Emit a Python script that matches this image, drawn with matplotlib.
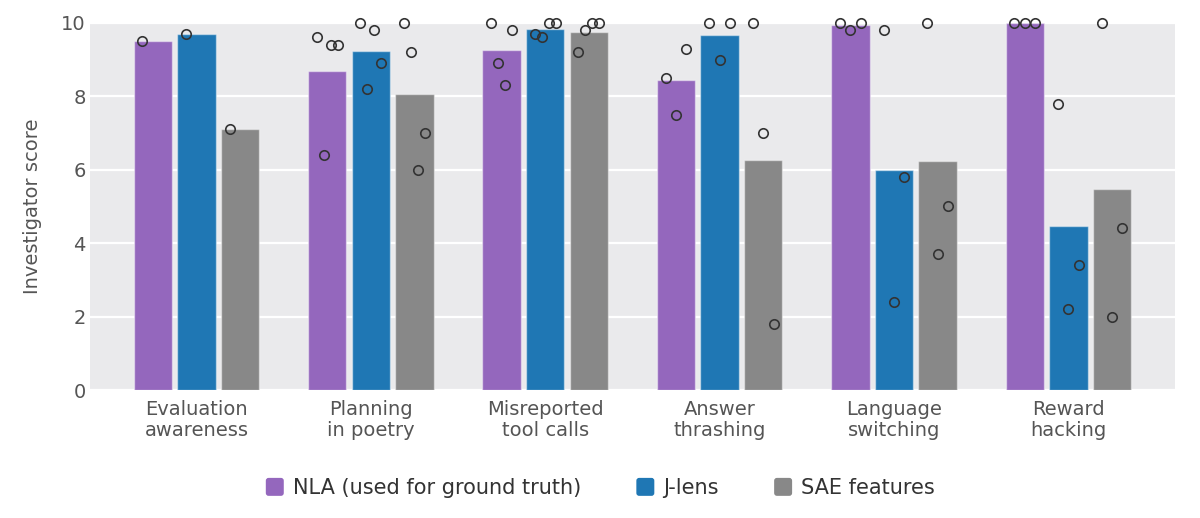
import numpy as np
import matplotlib
matplotlib.use("Agg")
import matplotlib.pyplot as plt
from matplotlib.patches import FancyBboxPatch, Patch
from matplotlib.legend_handler import HandlerPatch

categories = ["Evaluation\nawareness", "Planning\nin poetry", "Misreported\ntool calls",
              "Answer\nthrashing", "Language\nswitching", "Reward\nhacking"]
methods = ["NLA (used for ground truth)", "J-lens", "SAE features"]
colors = ["#9467bd", "#1f77b4", "#888888"]

# individual investigator scores per category, left to right as drawn
nla_scores = [[9.5], [9.6, 6.4, 9.4, 9.4], [10, 8.9, 8.3, 9.8],
              [8.5, 7.5, 9.3], [10, 9.8, 10], [10, 10, 10]]
jlens_scores = [[9.7], [10, 8.2, 9.8, 8.9], [9.7, 9.6, 10, 10],
                [10, 9.0, 10], [9.8, 2.4, 5.8], [7.8, 2.2, 3.4]]
sae_scores = [[7.1], [10, 9.2, 6.0, 7.0], [9.2, 9.8, 10, 10],
              [10, 7.0, 1.8], [10, 3.7, 5.0], [10, 2.0, 4.4]]
all_scores = [nla_scores, jlens_scores, sae_scores]

fig = plt.figure(figsize=(12, 5.18), dpi=100)
ax = fig.add_axes([0.075, 0.247, 0.904, 0.709])
ax.set_facecolor("#EAEAEC")
for s in ax.spines.values():
    s.set_visible(False)

x = np.arange(len(categories))
offsets = [-0.25, 0, 0.25]
width = 0.22

for m, (scores, col) in enumerate(zip(all_scores, colors)):
    means = [np.mean(s) for s in scores]
    ax.bar(x + offsets[m], means, width=width, color=col,
           edgecolor=(1, 1, 1, 0.45), linewidth=1, zorder=2)
    for i, s in enumerate(scores):
        px = x[i] + offsets[m] + np.linspace(-0.06, 0.06, len(s))
        ax.plot(px, s, "o", ms=6.8, mfc="none", mec="#333333", mew=1.2,
                clip_on=False, zorder=4)

ax.set_ylim(0, 10)
ax.set_xlim(-0.61, len(categories) - 1 + 0.61)
ax.set_yticks([0, 2, 4, 6, 8, 10])
ax.yaxis.grid(True, color="white", lw=1.6, zorder=0)
ax.set_axisbelow(True)
ax.set_xticks(x)
ax.set_xticklabels(categories, fontsize=14, color="#555555", linespacing=1.18)
ax.tick_params(axis="both", length=0, labelsize=14, colors="#555555")
ax.tick_params(axis="x", pad=7)
ax.tick_params(axis="y", pad=3)
ax.set_ylabel("Investigator score", fontsize=14, color="#555555", labelpad=14)


def rounded(legend, orig_handle, xdescent, ydescent, width, height, fontsize):
    side = min(width, height)
    return FancyBboxPatch((-xdescent + (width - side) / 2, -ydescent + (height - side) / 2),
                          side, side, boxstyle="round,pad=0,rounding_size=2")


handles = [Patch(facecolor=c, edgecolor="none") for c in colors]
leg = fig.legend(handles, methods, loc="center", bbox_to_anchor=(0.5, 0.058), ncol=3,
                 frameon=False, fontsize=15, handlelength=0.95, handleheight=0.95,
                 handletextpad=0.4, columnspacing=2.6,
                 handler_map={Patch: HandlerPatch(patch_func=rounded)})
for t in leg.get_texts():
    t.set_color("#333333")

fig.savefig("out.png", dpi=100)
